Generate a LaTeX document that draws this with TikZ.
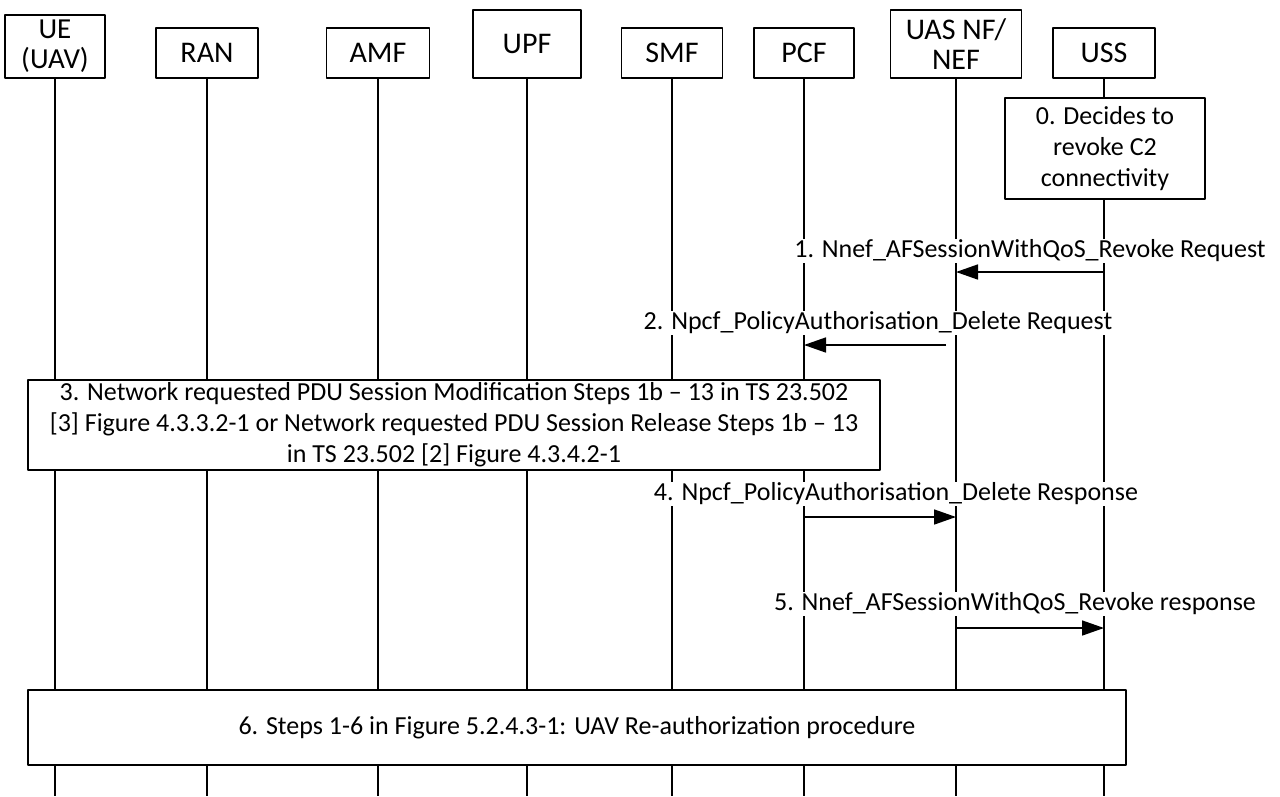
\documentclass[tikz,border=0pt]{standalone}
\usepackage{fontspec}
\setmainfont{Carlito}
\usepackage{tikz}
\usetikzlibrary{arrows.meta, calc, positioning, shapes}

\begin{document}
\begin{tikzpicture}[>={Triangle[length=22pt,width=15pt]}, line join=bevel, x=1pt, y=-1pt,
        every node/.style={font=\fontsize{26}{31}\selectfont},
        nf/.style={draw, line width=1.4pt, fill=white, align=center, inner sep=1pt,
          font=\fontsize{30}{30}\selectfont},
        life/.style={line width=1.2pt},
        msg/.style={->, line width=1.6pt},
        lbl/.style={fill=white, inner sep=1pt},
        stepbox/.style={draw, line width=1.4pt, fill=white, align=center, inner sep=2pt}]
        \useasboundingbox (0,0) rectangle (1280,796);
        % entities
        \node[nf, minimum width=100pt, minimum height=63pt,
          font=\fontsize{29}{30}\selectfont] (ue)  at (55,46.5)  {UE\\(UAV)};
        \node[nf, minimum width=102pt, minimum height=50pt] (ran) at (207,53)  {RAN};
        \node[nf, minimum width=103pt, minimum height=50pt] (amf) at (378,53)  {AMF};
        \node[nf, minimum width=108pt, minimum height=68pt] (upf) at (527,44)  {UPF};
        \node[nf, minimum width=101pt, minimum height=50pt] (smf) at (672,53)  {SMF};
        \node[nf, minimum width=100pt, minimum height=50pt] (pcf) at (804,53)  {PCF};
        \node[nf, minimum width=131pt, minimum height=68pt] (nef) at (956,44)  {UAS NF/\\NEF};
        \node[nf, minimum width=102pt, minimum height=50pt] (uss) at (1104,53) {USS};
        % lifelines
        \foreach \n in {ue, ran, amf, upf, smf, pcf, nef, uss}
          \draw[life] (\n.south) -- (\n |- 0,796);
        % message rows
        \coordinate (a1) at (0,272);
        \coordinate (a2) at (0,345);
        \coordinate (a4) at (0,517);
        \coordinate (a5) at (0,628);
        \node[stepbox, minimum width=200pt, minimum height=101pt] (s0) at (1105,148.5)
          {0. Decides to\\revoke C2\\connectivity};
        \node[lbl] (l1) at (1030,251) {1. Nnef\_AFSessionWithQoS\_Revoke Request};
        \draw[msg] (uss |- a1) -- (nef |- a1);
        \node[lbl] (l2) at (878,323) {2. Npcf\_PolicyAuthorisation\_Delete Request};
        \draw[msg] ([xshift=-10pt]nef |- a2) -- (pcf |- a2);
        \node[stepbox, minimum width=852pt, minimum height=90pt] (s3) at (454,425)
          {3. Network requested PDU Session Modification Steps 1b -- 13 in TS 23.502\\
           {[3]} Figure 4.3.3.2-1 or Network requested PDU Session Release Steps 1b -- 13\\
           in TS 23.502 [2] Figure 4.3.4.2-1};
        \node[lbl] (l4) at (896,494) {4. Npcf\_PolicyAuthorisation\_Delete Response};
        \draw[msg] (pcf |- a4) -- (nef |- a4);
        \node[lbl] (l5) at (1015,604) {5. Nnef\_AFSessionWithQoS\_Revoke response};
        \draw[msg] (nef |- a5) -- (uss |- a5);
        \node[stepbox, minimum width=1098pt, minimum height=75pt] (s6) at (577,727.5)
          {6. Steps 1-6 in Figure 5.2.4.3-1: UAV Re-authorization procedure};
      \end{tikzpicture}
\end{document}
